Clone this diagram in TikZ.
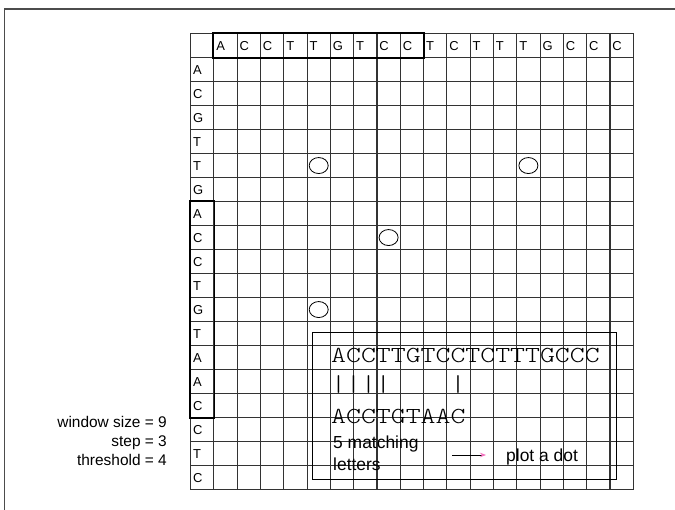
\documentclass[tikz,border=0pt]{standalone}
\usepackage{fontspec}
\setmainfont{Liberation Sans}
\newfontfamily\seqfont{lmmonolt10-regular.otf}[FakeStretch=1.24]
\usetikzlibrary{shapes.geometric, positioning, arrows.meta, calc}

\begin{document}
\begin{tikzpicture}[
        x=1bp, y=-1bp,
        % one square of the dot plot
        cell/.style={
            draw=black!80,
            line width=1.1bp,
            minimum height=24bp,
            text width=18.3bp,
            inner xsep=2.5bp,
            inner ysep=0pt,
            align=left,
            anchor=north west,
            font=\fontsize{13}{13}\selectfont
        },
        hit/.style={
            draw, ellipse, line width=0.8bp,
            minimum width=19bp, minimum height=16bp, inner sep=0pt
        },
        window/.style={draw, line width=1.8bp},
        seq/.style={font=\seqfont\fontsize{23}{23}\selectfont, inner sep=0pt, anchor=base west},
        note/.style={font=\fontsize{15.5}{15.5}\selectfont, inner sep=0pt},
        bignote/.style={font=\fontsize{17.5}{17.5}\selectfont, inner sep=0pt, anchor=base west}
    ]

    \useasboundingbox (0,0) rectangle (675,510);

    % frame
    \draw[black!70, line width=1.2bp] (675,9) -- (4.5,9) -- (4.5,510);

    % ==========================================
    % DOT PLOT GRID
    % ==========================================

    % corner
    \node[cell] (c-0-0) at (190,33) {};

    % top sequence
    \foreach \ch [count=\c] in {A,C,C,T,T,G,T,C,C,T,C,T,T,T,G,C,C,C}
        \node[cell] (c-0-\c) at ({190+23.3*\c},33) {\ch};

    % left sequence
    \foreach \ch [count=\r] in {A,C,G,T,T,G,A,C,C,T,G,T,A,A,C,C,T,C}
        \node[cell] (c-\r-0) at (190,{33+24*\r}) {\ch};

    % empty squares
    \foreach \r in {1,...,18}
        \foreach \c in {1,...,18}
            \node[cell] (c-\r-\c) at ({190+23.3*\c},{33+24*\r}) {};

    % windows
    \draw[window] (c-0-1.north west) rectangle (c-0-9.south east);
    \draw[window] (c-7-0.north west) rectangle (c-15-0.south east);

    % dots
    \node[hit] (hit-1) at (c-5-5) {};
    \node[hit] (hit-2) at (c-5-14) {};
    \node[hit] (hit-3) at (c-8-8) {};
    \node[hit] (hit-4) at (c-11-5) {};

    % ==========================================
    % COMPARISON PANEL
    % ==========================================
    \node[draw, line width=0.8bp, minimum width=304bp, minimum height=147bp,
          inner sep=0pt, anchor=north west] (panel) at (312,332) {};

    \node[seq] (seq-top) at (331,362) {ACCTTGTCCTCTTTGCCC};
    \node[seq] (bars) at (331,391) {||||\ \ \ \ |};
    \node[seq] (seq-left) at (331,423) {ACCTGTAAC};

    \node[bignote] (match-1) at (333,448) {5 matching};
    \node[bignote] (match-2) at (333,470) {letters};
    \node[bignote] (plotdot) at (506,461) {plot a dot};

    \coordinate (arrow-tail) at (452,455);
    \draw[line width=0.8bp, -{Stealth[length=6bp, width=4.5bp, magenta!55]},
          shorten >=20bp] (arrow-tail) -- (arrow-tail -| plotdot.west);

    % settings
    \node[note, anchor=base east] (win-lbl) at (167,427) {window size = 9};
    \node[note, anchor=base east] (step-lbl) at (167,446) {step = 3};
    \node[note, anchor=base east] (thresh-lbl) at (167,465) {threshold = 4};

\end{tikzpicture}
\end{document}
